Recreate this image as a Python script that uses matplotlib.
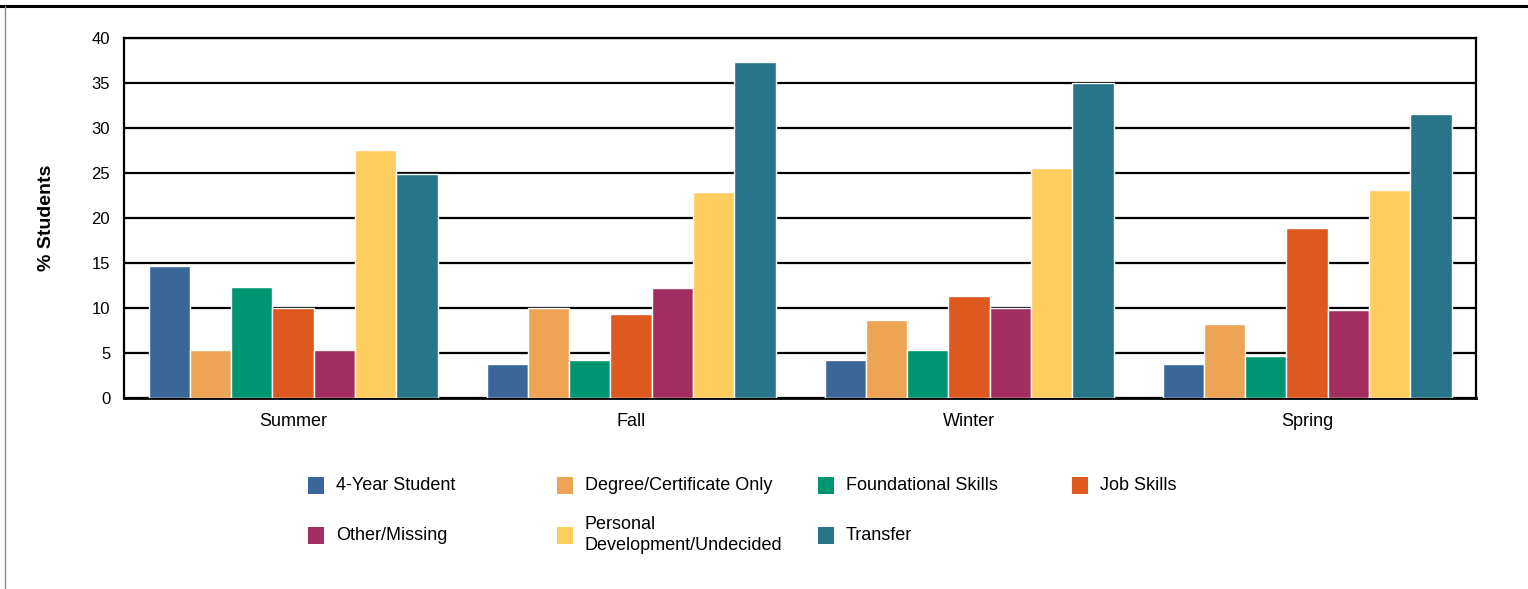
import matplotlib.pyplot as plt
import numpy as np
from matplotlib.lines import Line2D
from matplotlib.patches import Rectangle

plt.rcParams["font.family"] = ["Liberation Sans", "DejaVu Sans"]

terms = ["Summer", "Fall", "Winter", "Spring"]
series = ["4-Year Student", "Degree/Certificate Only", "Foundational Skills", "Job Skills",
          "Other/Missing", "Personal\nDevelopment/Undecided", "Transfer"]
colors = ["#3b6698", "#eea455", "#009571", "#dd5920", "#a22d60", "#fdcd60", "#287589"]

four_year = [14.7, 3.8, 4.2, 3.8]
degree_cert = [5.3, 10.0, 8.7, 8.2]
foundational = [12.3, 4.2, 5.3, 4.7]
job_skills = [10.0, 9.3, 11.3, 18.9]
other_missing = [5.3, 12.2, 10.0, 9.8]
personal_dev = [27.6, 22.9, 25.6, 23.1]
transfer = [24.9, 37.3, 35.0, 31.6]

values = [four_year, degree_cert, foundational, job_skills, other_missing, personal_dev, transfer]

fig = plt.figure(figsize=(15.28, 5.89), dpi=100)
ax = fig.add_axes([0.0812, 0.3243, 0.8848, 0.6112])

x = np.arange(len(terms))
n = len(series)
width = 0.855 / n
for i, vals in enumerate(values):
    ax.bar(x + (i - (n - 1) / 2) * width, vals, width, color=colors[i],
           edgecolor="white", linewidth=1, zorder=3)

ax.set_xlim(-0.5, len(terms) - 0.5)
ax.set_ylim(0, 40)
ax.set_yticks(range(0, 41, 5))
ax.set_xticks(x)
ax.set_xticklabels(terms, fontsize=13)
ax.tick_params(axis="both", length=0, labelsize=12)
ax.tick_params(axis="x", pad=11, labelsize=13)
ax.tick_params(axis="y", pad=10)
ax.yaxis.grid(True, color="black", linewidth=1.6, zorder=1)
for s in ax.spines.values():
    s.set_color("black")
    s.set_linewidth(1.6)
ax.spines["bottom"].set_linewidth(2)
ax.set_ylabel("% Students", fontsize=14, fontweight="bold", labelpad=26)

# legend, laid out by hand to match the original grid
col_x = [308, 557, 818, 1072]
row_y = [485, 535]
W, H = 1528, 589
for i, name in enumerate(series):
    cx = col_x[i % 4]
    cy = row_y[i // 4]
    fig.add_artist(Rectangle((cx / W, 1 - (cy + 9) / H), 16 / W, 17 / H,
                             transform=fig.transFigure, facecolor=colors[i], edgecolor="none"))
    fig.text((cx + 28) / W, 1 - cy / H, name, fontsize=13, va="center", ha="left",
             linespacing=1.35)

# frame lines of the original image
fig.add_artist(Line2D([0, 1], [1 - 6 / H, 1 - 6 / H], transform=fig.transFigure,
                      color="black", linewidth=2.2))
fig.add_artist(Line2D([4.5 / W, 4.5 / W], [0, 1 - 6 / H], transform=fig.transFigure,
                      color="#888888", linewidth=1))

fig.savefig("out.png", dpi=100)
